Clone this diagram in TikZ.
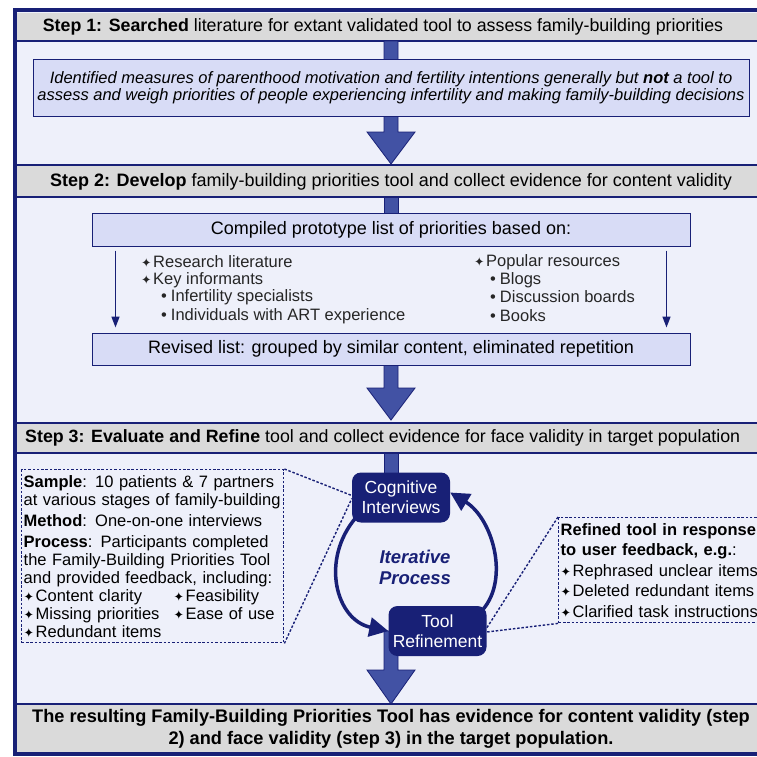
\documentclass[tikz,border=0pt]{standalone}
\usepackage{fontspec}
\setmainfont{Liberation Sans}
\newfontfamily\symfont{DejaVu Sans}
\usetikzlibrary{arrows.meta,positioning}
\definecolor{navy}{RGB}{24,32,118}
\definecolor{arrowblue}{RGB}{66,82,164}
\definecolor{boxfill}{RGB}{216,220,246}
\definecolor{panelbg}{RGB}{238,240,250}
\definecolor{headgray}{RGB}{218,218,218}
\newcommand\fsz[2]{\fontsize{#1}{#2}\selectfont}
\newcommand\sbul{{\symfont\fsz{12.5}{10}✦}\hspace{1.5pt}}
\newcommand\dbul{\textbullet\hspace{4pt}}
\begin{document}
\begin{tikzpicture}[x=1pt,y=-1pt,
    band/.style={fill=headgray},
    bandline/.style={navy, line width=1.2pt},
    box/.style={draw=navy, line width=1pt, fill=boxfill, inner sep=0pt},
    bigarrow/.style={fill=arrowblue, draw=navy, line width=0.8pt},
    thinarrow/.style={navy, line width=1.5pt, -{Triangle[length=11pt,width=8pt]}},
    stage/.style={fill=navy, rounded corners=9pt, text=white, align=center,
      minimum width=98pt, minimum height=50pt, inner sep=0pt, font=\fsz{17.5}{20}},
    cyclearrow/.style={navy, line width=3.5pt, -{Triangle[length=19pt,width=19pt]}},
    note/.style={draw=navy, line width=1.4pt, dash pattern=on 2.5pt off 1.8pt,
      anchor=north west, align=left, inner xsep=2pt, inner ysep=0pt},
    link/.style={navy, line width=1.4pt, dash pattern=on 2.5pt off 1.8pt},
    list/.style={anchor=west, inner sep=0pt, font=\fsz{16.5}{18}, text=black!85}
  ]
  \useasboundingbox (0,0) rectangle (757,756);
  \clip (0,0) rectangle (757,756);
  \def\bigarrow#1#2#3{\filldraw[bigarrow] (384,#1) -- (384,#2) -- (367,#2) -- (391,#3)
    -- (415,#2) -- (398,#2) -- (398,#1) -- cycle;}

  % frame and header bands
  \filldraw[fill=panelbg, draw=navy, line width=4.5pt] (15,10) rectangle (800,754);
  \fill[band] (17,12.5) rectangle (800,41);
  \draw[bandline] (17,41) -- (800,41);
  \fill[band] (17,165) rectangle (800,197);
  \draw[bandline] (17,165) -- (800,165) (17,197) -- (800,197);
  \fill[band] (17,423) rectangle (800,453);
  \draw[bandline] (17,423) -- (800,423) (17,453) -- (800,453);
  \fill[band] (17,704) rectangle (800,752);
  \draw[bandline] (17,704) -- (800,704);

  % wide arrows
  \bigarrow{41}{132}{164}
  \filldraw[bigarrow] (384,197) rectangle (398,214);
  \bigarrow{365}{388}{420}
  \filldraw[bigarrow] (384,453) rectangle (398,474);
  \bigarrow{631}{670}{704}

  % step 1
  \node[font=\fsz{17.8}{20}] (H1) at (383,27) {\textbf{Step 1: Searched} literature for extant validated tool to assess family-building priorities};
  \node[box, minimum width=716, minimum height=57, align=center, font=\itshape\fsz{16.5}{17}] (B1) at (391,87.5)
    {Identified measures of parenthood motivation and fertility intentions generally but \textbf{not} a tool to\\
     assess and weigh priorities of people experiencing infertility and making family-building decisions};

  % step 2
  \node[font=\fsz{18}{20}] (H2) at (391,182) {\textbf{Step 2: Develop} family-building priorities tool and collect evidence for content validity};
  \node[box, minimum width=598, minimum height=33, font=\fsz{18}{20}] (C1) at (391,229.5) {Compiled prototype list of priorities based on:};
  \node[box, minimum width=598, minimum height=32, font=\fsz{18}{20}] (R1) at (391,349) {Revised list: grouped by similar content, eliminated repetition};
  \draw[thinarrow] ([xshift=24pt,yshift=-4pt]C1.south west) -- ([xshift=24pt,yshift=5pt]R1.north west);
  \draw[thinarrow] ([xshift=-24pt,yshift=-4pt]C1.south east) -- ([xshift=-24pt,yshift=5pt]R1.north east);
  \node[list] (L1) at (141,262) {\sbul Research literature};
  \node[list] (L2) at (141,280) {\sbul Key informants};
  \node[list] (L3) at (161,297) {\dbul Infertility specialists};
  \node[list] (L4) at (161,316) {\dbul Individuals with ART experience};
  \node[list] (P1) at (474,262) {\sbul Popular resources};
  \node[list] (P2) at (490,280) {\dbul Blogs};
  \node[list] (P3) at (490,297) {\dbul Discussion boards};
  \node[list] (P4) at (490,316) {\dbul Books};

  % step 3
  \node[anchor=west, inner sep=0pt, font=\fsz{17.8}{20}] (H3) at (25,438) {\textbf{Step 3: Evaluate and Refine} tool and collect evidence for face validity in target population};
  \node[stage] (cog) at (401,497.5) {Cognitive\\Interviews};
  \node[stage] (tool) at (437.5,631) {Tool\\Refinement};
  \node[font=\bfseries\itshape\fsz{18.5}{21}, text=navy, align=center] (it) at (415,567) {Iterative\\Process};
  \draw[cyclearrow] ([shift={(4pt,5pt)}]cog.south west) .. controls (320,560) and (336,620) .. (tool.west);
  \draw[cyclearrow] ([shift={(-4pt,-4pt)}]tool.north east) .. controls (510,578) and (492,518) .. ([yshift=5pt]cog.east);

  \node[note, text width=258pt, minimum height=173, font=\fsz{16.5}{18}] (N1) at (21,469) {%
    \textbf{Sample}: 10 patients \& 7 partners\\
    at various stages of family-building\\[3pt]
    \textbf{Method}: One-on-one interviews\\[3pt]
    \textbf{Process}: Participants completed\\
    the Family-Building Priorities Tool\\
    and provided feedback, including:\\
    \makebox[150pt][l]{\sbul Content clarity}\sbul Feasibility\\
    \makebox[150pt][l]{\sbul Missing priorities}\sbul Ease of use\\
    \sbul Redundant items};
  \node[note, text width=236pt, minimum height=105, font=\fsz{16.5}{20.5}] (N2) at (558,517) {%
    \textbf{Refined tool in response}\\
    \textbf{to user feedback, e.g.}:\\
    \sbul Rephrased unclear items\\
    \sbul Deleted redundant items\\
    \sbul Clarified task instructions};
  \draw[link] (N1.north east) -- ([yshift=2pt]cog.west);
  \draw[link] (N1.south east) -- ([yshift=-1pt]cog.west);
  \draw[link] (N2.north west) -- ([yshift=3pt]tool.east);
  \draw[link] (N2.south west) -- ([yshift=-1pt]tool.east);

  % result
  \node[font=\bfseries\fsz{18.2}{22}, align=center] (F1) at (391,729)
    {The resulting Family-Building Priorities Tool has evidence for content validity (step\\
     2) and face validity (step 3) in the target population.};
\end{tikzpicture}
\end{document}
